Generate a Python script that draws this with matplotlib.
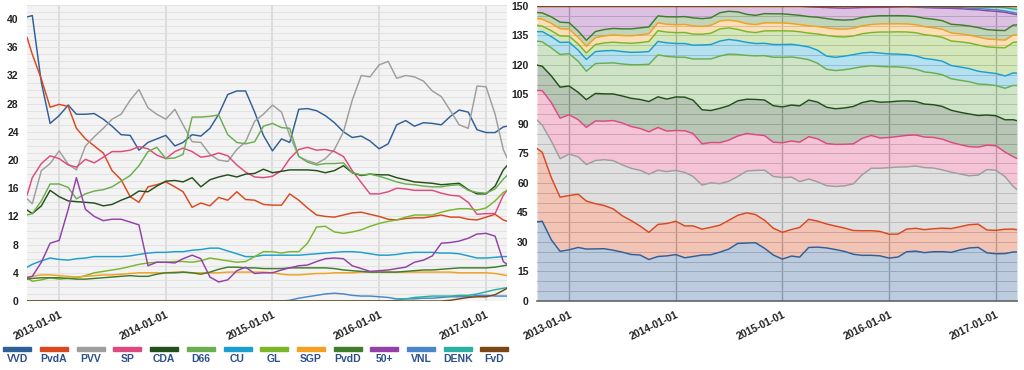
import numpy as np
import pandas as pd
import matplotlib
matplotlib.use("Agg")
import matplotlib.pyplot as plt
import matplotlib.dates as mdates
from matplotlib.patches import Rectangle
from matplotlib.ticker import MultipleLocator

plt.rcParams['font.family'] = ['Liberation Sans', 'DejaVu Sans']

# poll dates: election day, then monthly, then last poll before the 2017 election
month_starts = pd.date_range('2012-10-01', '2017-03-01', freq='MS').strftime('%Y-%m-%d')
dates = pd.to_datetime(['2012-09-13'] + list(month_starts) + ['2017-03-14'])

parties = ['VVD', 'PvdA', 'PVV', 'SP', 'CDA', 'D66', 'CU', 'GL', 'SGP', 'PvdD',
           '50+', 'VNL', 'DENK', 'FvD']
colors = ['#2f5f98', '#d9481e', '#9e9e9e', '#dd4a80', '#23501a', '#6aae50',
          '#1a9fcf', '#7ab62a', '#f4a020', '#3f7d2a', '#9340a8', '#4a86c8',
          '#2ab0a0', '#7a4614']

# seats per party (smoothed poll average)
vvd = [40.3, 40.5, 31.0, 25.2, 26.3, 27.8, 26.5, 26.5, 26.6, 25.8,
       24.8, 23.6, 23.5, 21.4, 22.5, 23.0, 23.5, 22.0, 22.5, 23.6,
       23.4, 24.5, 26.5, 29.3, 29.8, 29.8, 26.8, 23.5, 21.3, 23.0,
       22.5, 27.2, 27.3, 27.0, 26.3, 25.3, 24.0, 23.2, 23.4, 22.7,
       21.6, 22.3, 25.0, 25.6, 24.8, 25.3, 25.2, 25.0, 26.2, 27.1,
       26.8, 24.3, 23.9, 23.9, 24.7, 24.8]
pvda = [37.4, 35.0, 31.5, 27.5, 27.9, 27.6, 24.5, 23.0, 22.0, 21.0,
        18.5, 17.2, 14.8, 14.0, 16.2, 16.5, 16.9, 16.2, 15.5, 13.3,
        13.9, 13.5, 14.7, 14.3, 15.5, 14.4, 14.3, 13.7, 13.6, 13.6,
        15.2, 14.3, 13.2, 12.2, 12.0, 11.9, 12.2, 12.5, 12.6, 12.3,
        12.0, 11.6, 11.5, 11.7, 11.8, 11.8, 12.0, 12.2, 11.9, 11.9,
        11.6, 11.5, 11.9, 12.3, 11.5, 11.3]
pvv = [14.5, 13.8, 18.5, 19.5, 21.3, 19.4, 18.6, 22.0, 23.3, 24.5,
       25.8, 26.5, 28.5, 30.0, 27.4, 26.5, 25.8, 27.2, 25.0, 22.6,
       22.5, 20.8, 20.0, 19.8, 21.5, 22.6, 25.5, 26.5, 27.8, 26.8,
       23.5, 20.5, 19.9, 19.5, 20.2, 21.5, 24.0, 28.5, 32.0, 31.8,
       33.5, 34.0, 31.6, 32.0, 31.8, 31.2, 29.8, 29.0, 27.0, 25.0,
       24.5, 30.5, 30.4, 26.5, 21.5, 20.3]
sp = [15.0, 17.5, 19.5, 20.6, 20.2, 19.3, 19.0, 20.1, 19.6, 20.4,
      21.2, 21.2, 21.4, 21.9, 21.6, 20.7, 20.2, 21.2, 21.7, 21.2,
      20.4, 20.6, 21.0, 20.6, 19.3, 18.3, 17.6, 17.5, 17.7, 18.5,
      20.2, 21.5, 21.8, 21.4, 21.5, 21.2, 20.5, 18.5, 16.8, 15.2,
      15.2, 15.5, 16.0, 15.9, 15.7, 15.7, 15.7, 15.3, 15.0, 14.9,
      14.0, 12.3, 12.4, 12.4, 15.0, 15.7]
cda = [12.9, 12.4, 13.5, 15.7, 14.8, 14.2, 14.1, 14.0, 13.9, 13.5,
       13.7, 14.3, 14.8, 15.6, 15.5, 16.3, 17.0, 17.1, 16.9, 17.5,
       16.2, 17.2, 17.6, 17.9, 17.6, 18.0, 18.1, 18.7, 18.2, 18.4,
       18.6, 18.6, 18.6, 18.5, 18.2, 18.5, 19.2, 18.2, 17.8, 18.0,
       17.9, 17.9, 17.5, 17.2, 16.9, 16.8, 16.7, 16.5, 16.6, 16.7,
       15.8, 15.2, 15.2, 16.3, 18.6, 19.2]
d66 = [12.2, 12.4, 14.2, 16.6, 16.6, 16.1, 14.5, 15.2, 15.6, 15.8,
       16.2, 17.0, 17.8, 19.2, 21.2, 21.8, 20.2, 20.3, 20.8, 26.1,
       26.1, 26.2, 26.4, 23.6, 22.5, 22.3, 22.6, 24.8, 25.2, 24.6,
       24.5, 20.5, 19.7, 19.3, 19.5, 19.5, 19.6, 18.2, 17.9, 18.0,
       17.7, 17.3, 16.9, 16.6, 16.5, 16.3, 16.2, 16.2, 16.4, 16.5,
       15.7, 15.4, 15.3, 15.9, 17.3, 17.8]
cu = [4.8, 5.2, 5.7, 6.1, 5.9, 5.8, 6.0, 6.1, 6.3, 6.3,
      6.3, 6.3, 6.4, 6.6, 6.8, 6.9, 6.9, 7.0, 7.0, 7.2,
      7.3, 7.5, 7.5, 7.1, 6.7, 6.3, 6.3, 6.5, 6.5, 6.5,
      6.5, 6.5, 6.6, 6.7, 6.8, 6.9, 7.0, 7.0, 6.9, 6.7,
      6.5, 6.5, 6.6, 6.8, 6.9, 6.9, 6.9, 6.8, 6.8, 6.7,
      6.4, 6.1, 6.1, 6.2, 6.3, 6.3]
gl = [3.3, 2.8, 3.0, 3.3, 3.1, 3.2, 3.3, 3.6, 4.0, 4.2,
      4.4, 4.6, 4.9, 5.2, 5.4, 5.5, 5.5, 5.6, 5.6, 5.5,
      5.7, 6.1, 5.9, 5.7, 5.5, 5.6, 6.3, 7.0, 7.0, 6.8,
      7.0, 7.0, 8.2, 10.5, 10.6, 9.8, 9.6, 9.8, 10.1, 10.6,
      11.0, 11.3, 11.5, 11.9, 12.2, 12.2, 12.2, 12.6, 12.9, 13.1,
      13.1, 12.9, 13.2, 14.2, 15.4, 15.7]
sgp = [3.4, 3.5, 3.7, 3.7, 3.6, 3.5, 3.4, 3.5, 3.6, 3.7,
       3.7, 3.8, 3.9, 4.0, 4.0, 4.0, 4.0, 4.1, 4.1, 4.0,
       4.0, 4.0, 4.0, 4.1, 4.1, 4.1, 4.1, 4.1, 4.0, 3.8,
       3.7, 3.7, 3.8, 3.9, 3.9, 4.0, 4.0, 4.0, 4.1, 4.1,
       4.1, 4.1, 4.1, 4.1, 4.1, 4.1, 4.1, 4.1, 4.1, 4.0,
       4.0, 4.0, 4.0, 3.9, 3.7, 3.6]
pvdd = [3.1, 3.2, 3.3, 3.3, 3.3, 3.2, 3.1, 3.1, 3.2, 3.3,
        3.4, 3.5, 3.6, 3.5, 3.5, 3.8, 4.0, 4.0, 4.1, 4.0,
        3.8, 4.1, 4.5, 4.8, 4.8, 4.7, 4.7, 4.6, 4.6, 4.6,
        4.7, 4.7, 4.7, 4.7, 4.7, 4.6, 4.4, 4.3, 4.2, 4.1,
        4.1, 4.1, 4.1, 4.2, 4.3, 4.4, 4.4, 4.5, 4.6, 4.7,
        4.7, 4.7, 4.7, 4.8, 5.0, 5.1]
p50 = [3.3, 3.5, 5.5, 8.2, 8.6, 13.0, 17.5, 13.0, 12.0, 11.4,
       11.6, 11.6, 11.2, 10.8, 5.0, 5.5, 5.5, 5.4, 6.0, 6.5,
       6.0, 3.4, 2.7, 3.0, 4.3, 4.8, 3.9, 4.0, 4.0, 4.4,
       4.7, 5.0, 5.1, 5.6, 6.0, 6.1, 6.0, 5.0, 4.6, 4.2,
       4.3, 4.4, 4.6, 4.8, 5.5, 5.8, 6.4, 8.2, 8.3, 8.5,
       8.9, 9.5, 9.6, 9.2, 5.6, 5.2]
vnl = [0.0, 0.0, 0.0, 0.0, 0.0, 0.0, 0.0, 0.0, 0.0, 0.0,
       0.0, 0.0, 0.0, 0.0, 0.0, 0.0, 0.0, 0.0, 0.0, 0.0,
       0.0, 0.0, 0.0, 0.0, 0.0, 0.0, 0.0, 0.0, 0.0, 0.0,
       0.1, 0.4, 0.6, 0.8, 1.0, 1.1, 1.0, 0.8, 0.7, 0.7,
       0.6, 0.5, 0.3, 0.3, 0.3, 0.4, 0.4, 0.5, 0.6, 0.6,
       0.6, 0.8, 0.8, 0.7, 0.7, 0.7]
denk = [0.0, 0.0, 0.0, 0.0, 0.0, 0.0, 0.0, 0.0, 0.0, 0.0,
        0.0, 0.0, 0.0, 0.0, 0.0, 0.0, 0.0, 0.0, 0.0, 0.0,
        0.0, 0.0, 0.0, 0.0, 0.0, 0.0, 0.0, 0.0, 0.0, 0.0,
        0.0, 0.0, 0.0, 0.0, 0.0, 0.0, 0.0, 0.0, 0.0, 0.0,
        0.0, 0.0, 0.1, 0.3, 0.5, 0.6, 0.7, 0.7, 0.7, 0.8,
        0.8, 1.0, 1.3, 1.6, 1.8, 1.9]
fvd = [0.0, 0.0, 0.0, 0.0, 0.0, 0.0, 0.0, 0.0, 0.0, 0.0,
       0.0, 0.0, 0.0, 0.0, 0.0, 0.0, 0.0, 0.0, 0.0, 0.0,
       0.0, 0.0, 0.0, 0.0, 0.0, 0.0, 0.0, 0.0, 0.0, 0.0,
       0.0, 0.0, 0.0, 0.0, 0.0, 0.0, 0.0, 0.0, 0.0, 0.0,
       0.0, 0.0, 0.0, 0.0, 0.0, 0.0, 0.0, 0.0, 0.1, 0.3,
       0.5, 0.6, 0.6, 0.9, 1.5, 1.8]

seats = np.array([vvd, pvda, pvv, sp, cda, d66, cu, gl, sgp, pvdd, p50, vnl, denk, fvd])
# stacked view is scaled so that every date adds up to the 150 seats
stacked = seats * 150.0 / seats.sum(axis=0)
tops = np.cumsum(stacked, axis=0)

xmin, xmax = pd.Timestamp('2012-09-13'), pd.Timestamp('2017-03-14')
tick_font = dict(fontsize=7.5, fontweight='bold', color='#222222')

fig = plt.figure(figsize=(10.24, 3.70), dpi=100)
ax1 = fig.add_axes([0.0264, 0.1865, 0.4688, 0.8])
ax2 = fig.add_axes([0.5244, 0.1865, 0.4688, 0.7973])


def style_dates(ax):
    ax.set_xlim(xmin, xmax)
    ax.xaxis.set_major_locator(mdates.YearLocator())
    ax.xaxis.set_major_formatter(mdates.DateFormatter('%Y-%m-%d'))
    for lab in ax.get_xticklabels():
        lab.set_rotation(26)
        lab.set_ha('right')
        lab.set_rotation_mode('anchor')
        lab.set(**tick_font)
    for lab in ax.get_yticklabels():
        lab.set(**tick_font)
    ax.tick_params(length=0, pad=6)
    ax.set_axisbelow(True)


# left: seat lines
ax1.set_facecolor('#f3f3f3')
for row, c in zip(seats, colors):
    ax1.plot(dates, row, color=c, lw=1.05, solid_joinstyle='round')
ax1.set_ylim(0, 42)
ax1.yaxis.set_major_locator(MultipleLocator(4))
ax1.yaxis.set_minor_locator(MultipleLocator(1))
ax1.grid(axis='y', which='both', color='#e2e2e2', lw=0.7)
ax1.grid(axis='x', which='major', color='#dadada', lw=1.3)
ax1.tick_params(which='minor', length=0)
for s in ax1.spines.values():
    s.set_visible(False)
style_dates(ax1)

# right: stacked areas
ax2.set_facecolor('white')
lower = np.zeros(len(dates))
for top, c in zip(tops, colors):
    ax2.fill_between(dates, lower, top, color=c, alpha=0.32, lw=0)
    ax2.plot(dates, top, color=c, lw=1.05)
    lower = top
ax2.set_ylim(0, 150)
ax2.yaxis.set_major_locator(MultipleLocator(15))
ax2.yaxis.set_minor_locator(MultipleLocator(5))
ax2.grid(axis='y', which='both', color='#cdcdcd', lw=0.7)
ax2.grid(axis='x', which='major', color='#b5b5b5', lw=1.0)
ax2.tick_params(which='minor', length=0)
for name, s in ax2.spines.items():
    s.set_visible(name == 'bottom')
ax2.spines['bottom'].set_color('#666666')
ax2.spines['bottom'].set_linewidth(1.2)
style_dates(ax2)

# legend strip under the left chart
W, H = 1024.0, 370.0
for i, (name, c) in enumerate(zip(parties, colors)):
    cx = 17.3 + i * 36.7
    fig.patches.append(Rectangle(((cx - 14) / W, (H - 351) / H), 28 / W, 4 / H,
                                 transform=fig.transFigure, color=c))
    fig.text(cx / W, (H - 358.5) / H, name, ha='center', va='center',
             fontsize=7.5, fontweight='bold', color='#2a4f8c')

fig.savefig('out.png', dpi=100)
